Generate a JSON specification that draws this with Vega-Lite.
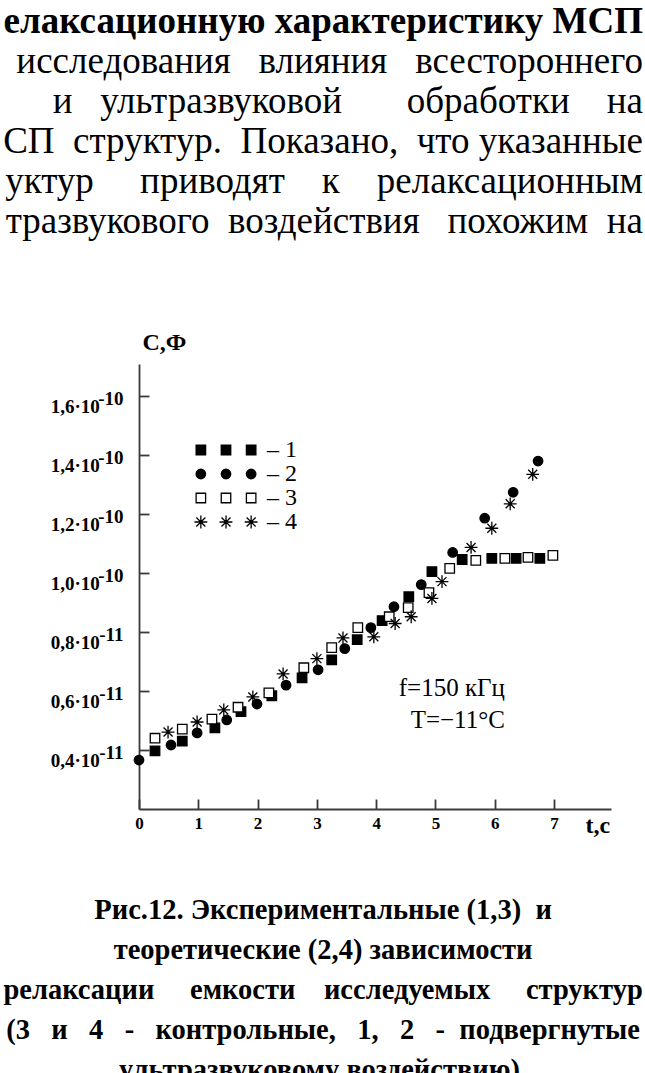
{
  "$schema": "https://vega.github.io/schema/vega-lite/v6.json",
  "background": "white",
  "padding": {"left": 3, "top": 3, "right": 0, "bottom": 0},
  "config": {
    "font": "Liberation Serif",
    "view": {"stroke": null},
    "axis": {"grid": false}
  },
  "title": {
    "text": [
      "Рис.12. Экспериментальные (1,3)\u00a0 и",
      "теоретические (2,4) зависимости",
      "релаксации\u00a0\u00a0\u00a0\u00a0 емкости\u00a0\u00a0\u00a0 исследуемых\u00a0\u00a0\u00a0\u00a0 структур",
      "(3\u00a0\u00a0 и\u00a0\u00a0 4\u00a0\u00a0 -\u00a0\u00a0 контрольные,\u00a0\u00a0 1,\u00a0\u00a0 2\u00a0\u00a0 -\u00a0 подвергнутые",
      "ультразвуковому воздействию)."
    ],
    "orient": "bottom",
    "anchor": "middle",
    "frame": "bounds",
    "align": "center",
    "font": "Liberation Serif",
    "fontSize": 28.5,
    "fontWeight": "bold",
    "lineHeight": 40,
    "color": "black",
    "offset": 59
  },
  "vconcat": [
    {
      "width": 472,
      "height": 445,
      "title": {
        "text": "елаксационную характеристику МСП",
        "subtitle": [
          "исследования\u00a0\u00a0 влияния\u00a0\u00a0 всестороннего",
          "и\u00a0\u00a0 ультразвуковой\u00a0\u00a0\u00a0\u00a0\u00a0\u00a0 обработки\u00a0\u00a0\u00a0 на",
          "СП\u00a0 структур.\u00a0 Показано,\u00a0 что указанные",
          "уктур\u00a0\u00a0\u00a0\u00a0 приводят\u00a0\u00a0\u00a0 к\u00a0\u00a0\u00a0 релаксационным",
          "тразвукового\u00a0 воздействия\u00a0\u00a0 похожим\u00a0 на"
        ],
        "orient": "top",
        "anchor": "end",
        "frame": "group",
        "dx": 32,
        "font": "Liberation Serif",
        "fontSize": 37,
        "fontWeight": "bold",
        "color": "black",
        "subtitleFont": "Liberation Serif",
        "subtitleFontSize": 37,
        "subtitleFontWeight": "normal",
        "subtitleColor": "black",
        "subtitleLineHeight": 40,
        "subtitlePadding": 3,
        "offset": 89
      },
      "data": {
        "values": [
          {"series": "1", "t": 0.27, "C": 0.397},
          {"series": "1", "t": 0.73, "C": 0.43},
          {"series": "1", "t": 1.28, "C": 0.475},
          {"series": "1", "t": 1.72, "C": 0.53},
          {"series": "1", "t": 2.24, "C": 0.584},
          {"series": "1", "t": 2.75, "C": 0.645},
          {"series": "1", "t": 3.25, "C": 0.706},
          {"series": "1", "t": 3.68, "C": 0.774},
          {"series": "1", "t": 4.1, "C": 0.839},
          {"series": "1", "t": 4.55, "C": 0.92},
          {"series": "1", "t": 4.94, "C": 1.005},
          {"series": "1", "t": 5.45, "C": 1.046},
          {"series": "1", "t": 5.95, "C": 1.05},
          {"series": "1", "t": 6.36, "C": 1.05},
          {"series": "1", "t": 6.76, "C": 1.05},
          {"series": "2", "t": 0.0, "C": 0.366},
          {"series": "2", "t": 0.54, "C": 0.417},
          {"series": "2", "t": 0.98, "C": 0.458},
          {"series": "2", "t": 1.48, "C": 0.502},
          {"series": "2", "t": 1.99, "C": 0.556},
          {"series": "2", "t": 2.48, "C": 0.62},
          {"series": "2", "t": 3.02, "C": 0.672},
          {"series": "2", "t": 3.47, "C": 0.744},
          {"series": "2", "t": 3.91, "C": 0.815},
          {"series": "2", "t": 4.3, "C": 0.886},
          {"series": "2", "t": 4.76, "C": 0.961},
          {"series": "2", "t": 5.29, "C": 1.07},
          {"series": "2", "t": 5.83, "C": 1.186},
          {"series": "2", "t": 6.31, "C": 1.274},
          {"series": "2", "t": 6.73, "C": 1.38},
          {"series": "3", "t": 0.27, "C": 0.44},
          {"series": "3", "t": 0.73, "C": 0.471},
          {"series": "3", "t": 1.23, "C": 0.505},
          {"series": "3", "t": 1.67, "C": 0.545},
          {"series": "3", "t": 2.19, "C": 0.594},
          {"series": "3", "t": 2.78, "C": 0.679},
          {"series": "3", "t": 3.25, "C": 0.747},
          {"series": "3", "t": 3.69, "C": 0.815},
          {"series": "3", "t": 4.22, "C": 0.852},
          {"series": "3", "t": 4.54, "C": 0.883},
          {"series": "3", "t": 4.89, "C": 0.934},
          {"series": "3", "t": 5.24, "C": 1.016},
          {"series": "3", "t": 5.68, "C": 1.043},
          {"series": "3", "t": 6.17, "C": 1.05},
          {"series": "3", "t": 6.56, "C": 1.053},
          {"series": "3", "t": 6.98, "C": 1.06},
          {"series": "4", "t": 0.49, "C": 0.461},
          {"series": "4", "t": 0.98, "C": 0.495},
          {"series": "4", "t": 1.43, "C": 0.536},
          {"series": "4", "t": 1.92, "C": 0.58},
          {"series": "4", "t": 2.43, "C": 0.658},
          {"series": "4", "t": 3.0, "C": 0.71},
          {"series": "4", "t": 3.44, "C": 0.78},
          {"series": "4", "t": 3.96, "C": 0.784},
          {"series": "4", "t": 4.32, "C": 0.829},
          {"series": "4", "t": 4.59, "C": 0.852},
          {"series": "4", "t": 4.94, "C": 0.914},
          {"series": "4", "t": 5.11, "C": 0.971},
          {"series": "4", "t": 5.6, "C": 1.087},
          {"series": "4", "t": 5.95, "C": 1.152},
          {"series": "4", "t": 6.26, "C": 1.235},
          {"series": "4", "t": 6.64, "C": 1.335}
        ]
      },
      "layer": [
        {
          "mark": {"type": "point", "size": 90, "stroke": "black", "strokeWidth": 1.3, "opacity": 1},
          "encoding": {
            "x": {
              "field": "t",
              "type": "quantitative",
              "scale": {"domain": [0, 7.96], "nice": false, "zero": false},
              "axis": {
                "values": [0, 1, 2, 3, 4, 5, 6, 7],
                "format": "d",
                "labelFont": "Liberation Serif",
                "labelFontWeight": "bold",
                "labelFontSize": 17,
                "labelColor": "black",
                "labelFlush": false,
                "labelOverlap": false,
                "labelPadding": 16.5,
                "domainColor": "#3a3a3a",
                "domainWidth": 1.8,
                "tickColor": "#3a3a3a",
                "tickWidth": 1.8,
                "tickSize": -10,
                "title": "t,c",
                "titleFont": "Liberation Serif",
                "titleFontSize": 24,
                "titleFontWeight": "bold",
                "titleColor": "black",
                "titleAlign": "left",
                "titleBaseline": "middle",
                "titleX": 446,
                "titleY": 16
              }
            },
            "y": {
              "field": "C",
              "type": "quantitative",
              "scale": {"domain": [0.2, 1.709], "nice": false, "zero": false},
              "axis": {
                "values": [0.4, 0.6, 0.8, 1.0, 1.2, 1.4, 1.6],
                "labelExpr": "[datum.value < 0.9 ? '-11' : '-10', replace(format(datum.value, '.1f'), '.', ',') + '·10\u00a0\u00a0\u00a0\u00a0\u00a0\u200b']",
                "labelFont": "Liberation Serif",
                "labelFontWeight": "bold",
                "labelFontSize": 19,
                "labelLineHeight": 8,
                "labelColor": "black",
                "labelPadding": 26,
                "labelOffset": 2,
                "labelBaseline": "middle",
                "labelFlush": false,
                "labelOverlap": false,
                "domainColor": "#3a3a3a",
                "domainWidth": 1.8,
                "tickColor": "#3a3a3a",
                "tickWidth": 1.8,
                "tickSize": -10,
                "title": "С,Ф",
                "titleFont": "Liberation Serif",
                "titleFontSize": 24,
                "titleFontWeight": "bold",
                "titleColor": "black",
                "titleAngle": 0,
                "titleAlign": "left",
                "titleBaseline": "middle",
                "titleX": 3,
                "titleY": -22
              }
            },
            "shape": {
              "field": "series",
              "type": "nominal",
              "scale": {
                "range": ["square", "circle", "square", "M-1.35,0H1.35M0,-1.35V1.35M-0.95,-0.95L0.95,0.95M-0.95,0.95L0.95,-0.95"]
              },
              "legend": null
            },
            "fill": {
              "field": "series",
              "type": "nominal",
              "scale": {"domain": ["1", "2", "3", "4"], "range": ["black", "black", "white", "white"]},
              "legend": {
                "orient": "none",
                "legendX": 75,
                "legendY": 74,
                "title": null,
                "padding": 0,
                "symbolSize": 90,
                "symbolType": {"expr": "datum.value === '1' || datum.value === '3' ? 'M-6.3,-1H-4.3V1H-6.3ZM-1,-1H1V1H-1ZM4.3,-1H6.3V1H4.3Z' : datum.value === '2' ? 'M-4.3,0A1,1,0,1,1,-6.3,0A1,1,0,1,1,-4.3,0ZM1,0A1,1,0,1,1,-1,0A1,1,0,1,1,1,0ZM6.3,0A1,1,0,1,1,4.3,0A1,1,0,1,1,6.3,0Z' : 'M-6.65,0H-3.95M-5.3,-1.35V1.35M-6.25,-0.95L-4.35,0.95M-6.25,0.95L-4.35,-0.95M-1.35,0H1.35M0,-1.35V1.35M-0.95,-0.95L0.95,0.95M-0.95,0.95L0.95,-0.95M3.95,0H6.65M5.3,-1.35V1.35M4.35,-0.95L6.25,0.95M4.35,0.95L6.25,-0.95'"},
                "symbolStrokeColor": "black",
                "symbolStrokeWidth": 1.3,
                "symbolOpacity": 1,
                "rowPadding": -8,
                "labelFont": "Liberation Serif",
                "labelFontSize": 24,
                "labelColor": "black",
                "labelOffset": 29,
                "labelExpr": "'– ' + datum.label"
              }
            }
          }
        },
        {
          "data": {"values": [{"note": "f, T"}]},
          "mark": {
            "type": "text",
            "align": "right",
            "baseline": "middle",
            "font": "Liberation Serif",
            "fontSize": 25,
            "lineHeight": 32,
            "color": "black"
          },
          "encoding": {
            "x": {"datum": 6.17, "type": "quantitative"},
            "y": {"datum": 0.61, "type": "quantitative"},
            "text": {"value": ["f=150 кГц", "T=−11°C"]}
          }
        }
      ]
    }
  ]
}
